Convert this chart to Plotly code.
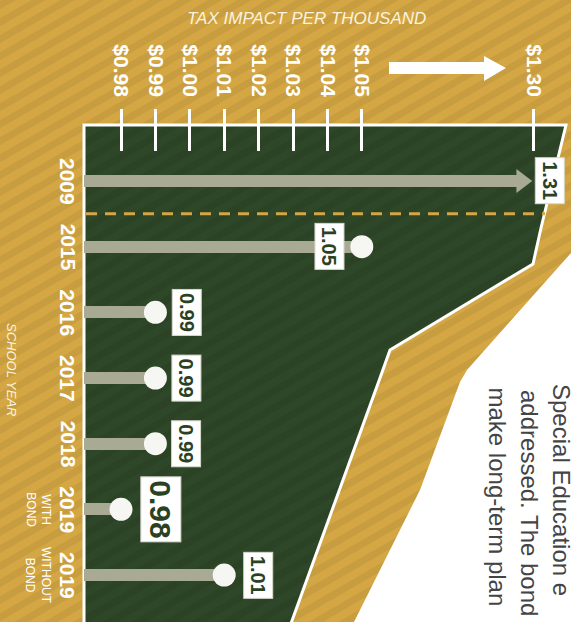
import plotly.graph_objects as go

# ---------------- data ----------------
categories = ["2009", "2015", "2016", "2017", "2018", "2019 with bond", "2019 without bond"]
cat_main = ["2009", "2015", "2016", "2017", "2018", "2019", "2019"]
cat_sub = ["", "", "", "", "", "WITH<br>BOND", "WITHOUT<br>BOND"]
values = [1.31, 1.05, 0.99, 0.99, 0.99, 0.98, 1.01]
value_labels = ["1.31", "1.05", "0.99", "0.99", "0.99", "0.98", "1.01"]
tick_values = [0.98, 0.99, 1.00, 1.01, 1.02, 1.03, 1.04, 1.05, 1.30]
tick_labels = ["$0.98", "$0.99", "$1.00", "$1.01", "$1.02", "$1.03", "$1.04", "$1.05", "$1.30"]
x_title = "TAX IMPACT PER THOUSAND"
y_title = "SCHOOL YEAR"
side_text = ["Special Education e", "addressed. The bond", "make long-term plan"]

# ---------------- styles / layout constants ----------------
W, H = 571, 622
GOLD = "#D4A744"
GREEN = "#2E4728"
BAR = "#A8AA93"
DOT = "#F6F6F2"
LABEL_GREEN = "#2A4223"
SANS = "Liberation Sans, Arial, Helvetica, sans-serif"

# axis break: values between 1.05 and 1.30 are compressed
BREAK_LO, BREAK_HI, BREAK_SPAN = 1.05, 1.30, 0.05


def disp(v):
    if v <= BREAK_LO:
        return v
    if v < BREAK_HI:
        return BREAK_LO + (v - BREAK_LO) * BREAK_SPAN / (BREAK_HI - BREAK_LO)
    return BREAK_LO + BREAK_SPAN + (v - BREAK_HI)


PX_PER_UNIT = 3440.0          # pixels per 1.00 of value
X_ORIGIN_PX = 121.0           # pixel of the first tick
x0 = tick_values[0] - X_ORIGIN_PX / PX_PER_UNIT
x_range = [x0, x0 + W / PX_PER_UNIT]

ROW_PX, FIRST_ROW_PX = 65.67, 181.0
y_range = [(H - FIRST_ROW_PX) / ROW_PX, -FIRST_ROW_PX / ROW_PX]

PANEL_LEFT_PX = 84
base_val = x0 + PANEL_LEFT_PX / PX_PER_UNIT

label_shift = [16, -32, 31, 31, 31, 40, 34]
label_size = [20, 20, 20, 20, 20, 30, 20]


def P(px, py):
    return px / W, 1 - py / H


def path(points):
    s = ""
    for i, (a, b) in enumerate(points):
        u, v = P(a, b)
        s += ("M" if i == 0 else "L") + f"{u:.5f},{v:.5f} "
    return s + "Z"


fig = go.Figure()

shapes = []
# green panel
panel_pts = [(84, 125), (566, 125), (541, 228), (533, 264), (390, 350), (380, 378),
             (285, 640), (84, 640)]
shapes.append(dict(type="path", path=path(panel_pts), xref="paper", yref="paper",
                   fillcolor=GREEN, line=dict(width=0), layer="below"))
# diagonal stripes over everything
tan30 = 0.57735
for c in range(-40, 1000, 17):
    ax, ay = P(-10, c)
    bx, by = P(W + 10, c - (W + 20) * tan30)
    shapes.append(dict(type="line", x0=ax, y0=ay, x1=bx, y1=by, xref="paper", yref="paper",
                       line=dict(color="rgba(0,0,0,0.06)", width=7), layer="below"))
# white panel on the right
white_pts = [(580, 253), (571, 253), (467, 370), (460, 382), (420, 490), (345, 640), (580, 640)]
shapes.append(dict(type="path", path=path(white_pts), xref="paper", yref="paper",
                   fillcolor="#FFFFFF", line=dict(width=0), layer="below"))
# white outline of the green panel
shapes.append(dict(type="path", path=path(panel_pts), xref="paper", yref="paper",
                   fillcolor="rgba(0,0,0,0)", line=dict(color="#FFFFFF", width=3), layer="below"))
# dashed separator between 2009 and later years
sx0, _ = P(86, 0)
sx1, _ = P(545, 0)
shapes.append(dict(type="line", xref="paper", yref="y", x0=sx0, x1=sx1, y0=0.5, y1=0.5,
                   line=dict(color=GOLD, width=3, dash="11px,8px"), layer="below"))
# white "jump" arrow in the header
arrow_pts = [(389, 62), (484, 62), (484, 56), (506, 68), (484, 81), (484, 74), (389, 74)]
shapes.append(dict(type="path", path=path(arrow_pts), xref="paper", yref="paper",
                   fillcolor="#FFFFFF", line=dict(width=0), layer="above"))

# ---------------- marks ----------------
is_arrow = [v >= BREAK_HI for v in values]
TRI_SIZE = 21
tri_tip_px = TRI_SIZE / 2 * 2 / 3 ** 0.5
ends = []
for v, a in zip(values, is_arrow):
    if a:
        ends.append(disp(min(v, BREAK_HI)) - tri_tip_px / PX_PER_UNIT)
    else:
        ends.append(disp(v))

fig.add_trace(go.Bar(
    y=categories, x=[e - base_val for e in ends], base=base_val, orientation="h",
    width=0.18, marker=dict(color=BAR, line=dict(width=0)), hoverinfo="skip"))

fig.add_trace(go.Scatter(
    x=[e for e, a in zip(ends, is_arrow) if a], y=[c for c, a in zip(categories, is_arrow) if a],
    mode="markers", marker=dict(symbol="triangle-right", size=TRI_SIZE, color=BAR, line=dict(width=0)),
    hoverinfo="skip"))

fig.add_trace(go.Scatter(
    x=[e for e, a in zip(ends, is_arrow) if not a], y=[c for c, a in zip(categories, is_arrow) if not a],
    mode="markers", marker=dict(symbol="circle", size=23, color=DOT, line=dict(width=0)),
    hoverinfo="skip"))

annotations = []
label_x = [disp(min(v, BREAK_HI)) for v in values]
for i, (lx, t, sh, fs) in enumerate(zip(label_x, value_labels, label_shift, label_size)):
    annotations.append(dict(
        x=lx, y=i, xref="x", yref="y", text=t, showarrow=False, textangle=90,
        xanchor="center", yanchor="middle",
        xshift=sh, font=dict(family=SANS, size=fs, color=LABEL_GREEN, weight="bold"),
        bgcolor="#FFFFFF", bordercolor="#D8D8CC", borderwidth=1, borderpad=3))

# category labels (y given as category index)
cx_main, _ = P(68, 0)
cx_sub, _ = P(38, 0)
for i, (m, s) in enumerate(zip(cat_main, cat_sub)):
    annotations.append(dict(x=cx_main, y=i, xref="paper", yref="y", text=m, showarrow=False,
                            textangle=90, xanchor="center", yanchor="middle",
                            font=dict(family=SANS, size=21, color="#FFFFFF", weight="bold")))
    if s:
        annotations.append(dict(x=cx_sub, y=i, xref="paper", yref="y", text=s, showarrow=False,
                                textangle=90, xanchor="center", yanchor="middle",
                                font=dict(family=SANS, size=12, color="#FFFFFF")))

# axis titles
tx, ty = P(306, 18)
annotations.append(dict(x=tx, y=ty, xref="paper", yref="paper", text=f"<i>{x_title}</i>",
                        showarrow=False, xanchor="center", yanchor="middle",
                        font=dict(family=SANS, size=17, color="#FBF3DF")))
tx, ty = P(12, 369)
annotations.append(dict(x=tx, y=ty, xref="paper", yref="paper", text=f"<i>{y_title}</i>",
                        showarrow=False, textangle=90, xanchor="center", yanchor="middle",
                        font=dict(family=SANS, size=13, color="#FBF3DF")))

# side text on the white panel
for line, lx, ly in zip(side_text, [562, 530, 497], [382, 388, 385]):
    tx, ty = P(lx, ly)
    annotations.append(dict(x=tx, y=ty, xref="paper", yref="paper", text=line, showarrow=False,
                            textangle=90, xanchor="center", yanchor="top",
                            font=dict(family=SANS, size=24, color="#444444")))

fig.update_layout(
    width=W, height=H, margin=dict(l=0, r=0, t=0, b=0, pad=0),
    paper_bgcolor=GOLD, plot_bgcolor="rgba(0,0,0,0)", showlegend=False,
    shapes=shapes, annotations=annotations, bargap=0,
    xaxis=dict(range=x_range, side="top", anchor="free", position=1 - 108 / H,
               tickvals=[disp(t) for t in tick_values], ticktext=tick_labels,
               ticks="inside", ticklen=42, tickwidth=3, tickcolor="#FFFFFF",
               tickangle=90, ticklabelstandoff=8,
               tickfont=dict(family=SANS, size=21, color="#FFFFFF", weight="bold"),
               showgrid=False, zeroline=False, showline=False, fixedrange=True),
    yaxis=dict(range=y_range, type="category", categoryarray=categories,
               showticklabels=False, showgrid=False, zeroline=False, showline=False,
               ticks="", fixedrange=True),
)

fig.write_html("out.html", config={"displayModeBar": False},
               post_script="document.body.style.margin='0';document.body.style.overflow='hidden';")
